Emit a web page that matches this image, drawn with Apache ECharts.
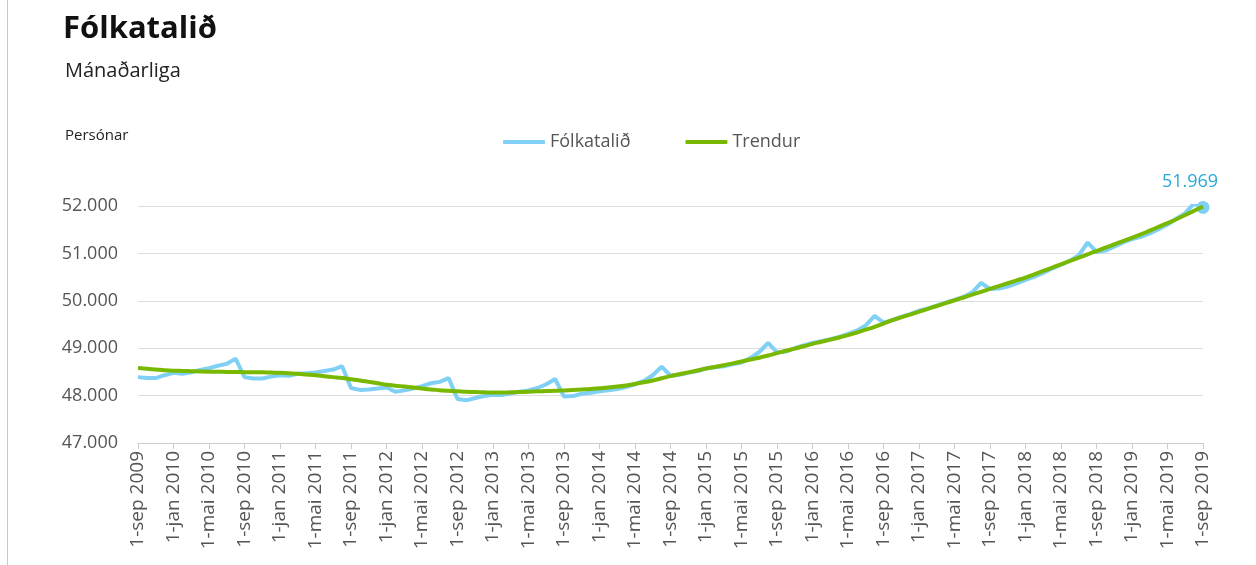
<!DOCTYPE html>
<html>
<head>
<meta charset="utf-8">
<style>
    html, body { margin: 0; padding: 0; background: #fff; }
    #chart { width: 1256px; height: 565px; }
    #edge { position: absolute; left: 7px; top: 0; width: 1px; height: 565px; background: #c8c8c8; }
</style>
<script src="https://cdn.jsdelivr.net/npm/echarts@6/dist/echarts.min.js"></script>
</head>
<body>
<div id="edge"></div>
<div id="chart"></div>
<script>
// mánaðir frá 1-sep 2009 til 1-sep 2019
const monthNames = ['jan','feb','mar','apr','mai','jun','jul','aug','sep','okt','nov','des'];
const categories = [];
for (let i = 0; i <= 120; i++) {
    const m = (8 + i) % 12;
    const y = 2009 + Math.floor((8 + i) / 12);
    categories.push('1-' + monthNames[m] + ' ' + y);
}

const folkatalid = [
    48390, 48370, 48370, 48430, 48480, 48460, 48490, 48540, 48580, 48630, 48670, 48780,
    48390, 48360, 48360, 48400, 48430, 48420, 48460, 48470, 48490, 48520, 48550, 48620,
    48160, 48120, 48130, 48150, 48170, 48080, 48110, 48150, 48200, 48260, 48290, 48370,
    47930, 47900, 47950, 47990, 48020, 48010, 48050, 48080, 48110, 48160, 48240, 48350,
    47980, 47990, 48040, 48060, 48090, 48110, 48140, 48180, 48240, 48310, 48430, 48610,
    48420, 48440, 48480, 48520, 48570, 48600, 48620, 48660, 48700, 48790, 48920, 49110,
    48910, 48930, 49000, 49060, 49110, 49150, 49190, 49240, 49300, 49370, 49480, 49680,
    49540, 49590, 49660, 49720, 49790, 49840, 49900, 49960, 50020, 50080, 50180, 50380,
    50250, 50260, 50300, 50370, 50440, 50510, 50590, 50680, 50760, 50840, 50960, 51230,
    51030, 51060, 51140, 51230, 51300, 51350, 51420, 51510, 51610, 51730, 51850, 52060,
    51969
];

const trendur = [
    48580, 48565, 48550, 48535, 48525, 48520, 48515, 48510, 48505, 48505, 48500, 48500,
    48495, 48490, 48490, 48485, 48480, 48470, 48460, 48445, 48430, 48410, 48390, 48370,
    48345, 48320, 48290, 48260, 48230, 48210, 48190, 48170, 48150, 48130, 48115, 48100,
    48090, 48080, 48075, 48070, 48065, 48065, 48070, 48075, 48080, 48090, 48095, 48100,
    48110, 48120, 48130, 48140, 48155, 48170, 48190, 48215, 48245, 48280, 48320, 48365,
    48410, 48450, 48490, 48530, 48570, 48605, 48640, 48680, 48720, 48760, 48800, 48845,
    48895, 48945, 48990, 49040, 49090, 49135, 49180, 49225, 49275, 49330, 49390, 49450,
    49520, 49590, 49650, 49710, 49770, 49830, 49890, 49950, 50010, 50070, 50130, 50190,
    50250, 50310, 50370, 50430, 50490, 50560, 50630, 50700, 50770, 50840, 50910, 50980,
    51050, 51120, 51190, 51260, 51330, 51400, 51480, 51560, 51640, 51720, 51810, 51900,
    51990
];

const fmt = v => String(v).replace(/\B(?=(\d{3})+(?!\d))/g, '.');

const blueData = folkatalid.map((v, i) => i === folkatalid.length - 1
    ? { value: v, symbol: 'circle', symbolSize: 13,
        label: { show: true, position: 'top', distance: 10, offset: [-13, 0],
                 formatter: p => fmt(p.value),
                 color: '#2aa8dc', fontSize: 18, fontFamily: 'Open Sans' } }
    : v);

let myChart = echarts.init(document.getElementById('chart'));
myChart.setOption({
    textStyle: { fontFamily: 'Open Sans' },
    title: [
        { text: 'Fólkatalið', left: 58, top: 9,
          textStyle: { fontSize: 31, fontWeight: 'bold', color: '#111', fontFamily: 'Open Sans' } },
        { text: 'Mánaðarliga', left: 60, top: 56,
          textStyle: { fontSize: 20, fontWeight: 'normal', color: '#222', fontFamily: 'Open Sans' } },
        { text: 'Persónar', left: 60, top: 123,
          textStyle: { fontSize: 15, fontWeight: 'normal', color: '#222', fontFamily: 'Open Sans' } }
    ],
    legend: {
        top: 128,
        left: 498,
        itemGap: 55,
        itemWidth: 42,
        itemHeight: 4,
        icon: 'roundRect',
        textStyle: { fontSize: 18, color: '#555' },
        data: ['Fólkatalið', 'Trendur']
    },
    grid: { left: 138, right: 53, top: 206, bottom: 122, containLabel: false },
    xAxis: {
        type: 'category',
        data: categories,
        boundaryGap: false,
        axisLine: { lineStyle: { color: '#cccccc' } },
        axisTick: { interval: 3, length: 6, lineStyle: { color: '#cccccc' } },
        axisLabel: { interval: 3, rotate: 90, fontSize: 19, color: '#555', margin: 8 }
    },
    yAxis: {
        type: 'value',
        min: 47000,
        max: 52000,
        interval: 1000,
        axisLine: { show: false },
        axisTick: { show: false },
        axisLabel: { formatter: fmt, fontSize: 18, color: '#555', margin: 20 },
        splitLine: { lineStyle: { color: '#dddddd' } }
    },
    series: [
        {
            name: 'Fólkatalið',
            type: 'line',
            data: blueData,
            symbol: 'none',
            clip: false,
            color: '#7fd0f4',
            lineStyle: { width: 4, color: '#7fd0f4' },
            itemStyle: { color: '#7fd0f4' },
            z: 2
        },
        {
            name: 'Trendur',
            type: 'line',
            data: trendur,
            symbol: 'none',
            smooth: true,
            clip: false,
            color: '#78b800',
            lineStyle: { width: 4, color: '#78b800' },
            z: 3
        }
    ]
});
</script>
</body>
</html>
